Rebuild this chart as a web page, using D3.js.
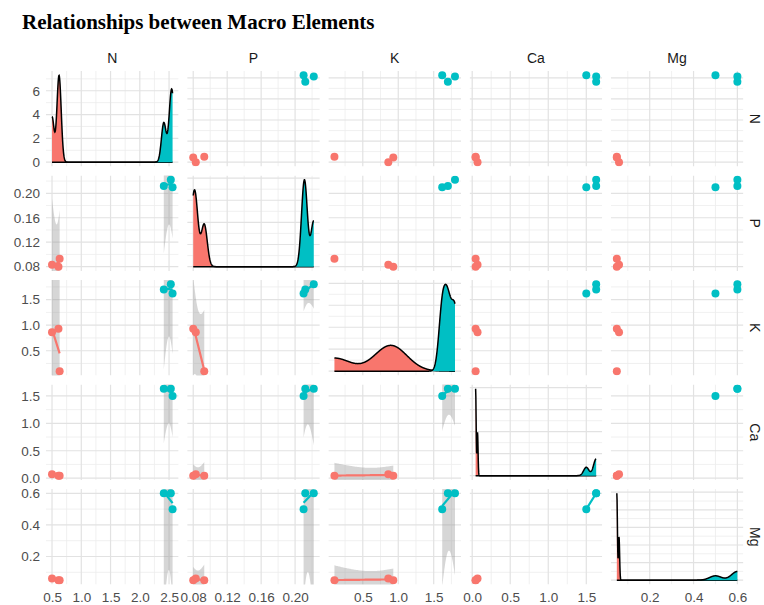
<!DOCTYPE html>
<html>
<head>
<meta charset="utf-8">
<script src="https://cdn.jsdelivr.net/npm/d3@7"></script>
<style>
  body { margin: 0; background: #fff; }
</style>
</head>
<body>
<div id="chart"></div>
<script>
// six samples, two groups of three
const elements = ["N", "P", "K", "Ca", "Mg"];
const groups = ["A", "A", "A", "B", "B", "B"];
const nVals  = [0.50, 0.61, 0.63, 2.56, 2.53, 2.41];
const pVals  = [0.083, 0.080, 0.093, 0.210, 0.222, 0.212];
const kVals  = [0.86, 0.93, 0.10, 1.62, 1.80, 1.70];
const caVals = [0.070, 0.045, 0.045, 1.50, 1.63, 1.63];
const mgVals = [0.060, 0.050, 0.050, 0.50, 0.60, 0.60];

const nTicks  = [0.5, 1.0, 1.5, 2.0, 2.5];
const pTicks  = [0.08, 0.12, 0.16, 0.20];
const kTicks  = [0.5, 1.0, 1.5];
const caTicks = [0.0, 0.5, 1.0, 1.5];
const mgTicks = [0.2, 0.4, 0.6];
const densityTicks = [0, 2, 4, 6];
const tickFormats = [".1f", ".2f", ".1f", ".1f", ".1f"];

const columns = [nVals, pVals, kVals, caVals, mgVals];
const tickSets = [nTicks, pTicks, kTicks, caTicks, mgTicks];

const colors = { A: "#F8766D", B: "#00BFC4" };
const tCrit = 12.706; // t(0.975, df = 1), n = 3 per group

const W = 764, H = 605;
const left0 = 46, colStep = 141.2, panelW = 132.6;
const top0 = 71, rowStep = 104.5, panelH = 95.5;
const sans = "'Liberation Sans', Arial, sans-serif";

const svg = d3.select("#chart").append("svg")
    .attr("width", W)
    .attr("height", H);

svg.append("text")
    .attr("x", 22)
    .attr("y", 29)
    .attr("font-family", "'Liberation Serif', 'Times New Roman', serif")
    .attr("font-weight", "bold")
    .attr("font-size", 21)
    .attr("fill", "#000")
    .text("Relationships between Macro Elements");

function expand(ext) {
    const d = (ext[1] - ext[0]) * 0.05;
    return [ext[0] - d, ext[1] + d];
}

function minorTicks(ticks, domain) {
    const step = ticks[1] - ticks[0];
    const out = [];
    for (let t = ticks[0] - step / 2; t <= ticks[ticks.length - 1] + step / 2 + 1e-9; t += step) {
        if (t >= domain[0] && t <= domain[1]) out.push(t);
    }
    return out;
}

function bwNrd0(x) {
    const s = d3.deviation(x);
    const iqr = (d3.quantile(x, 0.75) - d3.quantile(x, 0.25)) / 1.34;
    let lo = Math.min(s, iqr);
    if (!(lo > 0)) lo = s || 1;
    return 0.9 * lo * Math.pow(x.length, -0.2);
}

function kde(x, grid) {
    const bw = bwNrd0(x);
    return grid.map(g => ({
        x: g,
        y: d3.mean(x, xi => Math.exp(-0.5 * ((g - xi) / bw) ** 2)) / (bw * Math.sqrt(2 * Math.PI))
    }));
}

function lmBand(x, y, grid) {
    const n = x.length;
    const xbar = d3.mean(x), ybar = d3.mean(y);
    const sxx = d3.sum(x, v => (v - xbar) ** 2);
    const sxy = d3.sum(x, (v, k) => (v - xbar) * (y[k] - ybar));
    const b = sxy / sxx, a = ybar - b * xbar;
    const rss = d3.sum(x, (v, k) => (y[k] - a - b * v) ** 2);
    const s = Math.sqrt(rss / (n - 2));
    return grid.map(g => {
        const fit = a + b * g;
        const se = s * Math.sqrt(1 / n + (g - xbar) ** 2 / sxx);
        return { x: g, fit: fit, lo: fit - tCrit * se, hi: fit + tCrit * se };
    });
}

const xScales = columns.map((v, j) => d3.scaleLinear()
    .domain(expand(d3.extent(v)))
    .range([left0 + j * colStep, left0 + j * colStep + panelW]));
const yScales = columns.map((v, i) => d3.scaleLinear()
    .domain(expand(d3.extent(v)))
    .range([top0 + i * rowStep + panelH, top0 + i * rowStep]));

// densities for the diagonal
const densities = columns.map(v => {
    const ext = d3.extent(v);
    const grid = d3.range(512).map(k => ext[0] + (ext[1] - ext[0]) * k / 511);
    return ["A", "B"].map(gr => ({
        group: gr,
        pts: kde(v.filter((_, k) => groups[k] === gr), grid)
    }));
});
const densScales = densities.map((d, i) => {
    const maxY = d3.max(d, s => d3.max(s.pts, p => p.y));
    return d3.scaleLinear()
        .domain(expand([0, maxY]))
        .range([top0 + i * rowStep + panelH, top0 + i * rowStep]);
});

const defs = svg.append("defs");

for (let i = 0; i < 5; i++) {
    for (let j = 0; j < 5; j++) {
        const x0 = left0 + j * colStep, y0 = top0 + i * rowStep;
        const id = `clip-${i}-${j}`;
        defs.append("clipPath").attr("id", id)
            .append("rect").attr("x", x0).attr("y", y0).attr("width", panelW).attr("height", panelH);
        const g = svg.append("g").attr("clip-path", `url(#${id})`);
        const x = xScales[j];
        const y = i === j ? densScales[i] : yScales[i];

        // grid
        const vMinor = minorTicks(tickSets[j], x.domain());
        const hMajor = i === j ? y.ticks(5) : tickSets[i];
        const hMinor = minorTicks(hMajor, y.domain());
        g.selectAll(".vmin").data(vMinor).enter().append("line")
            .attr("x1", d => x(d)).attr("x2", d => x(d)).attr("y1", y0).attr("y2", y0 + panelH)
            .attr("stroke", "#ececec").attr("stroke-width", 0.8);
        g.selectAll(".hmin").data(hMinor).enter().append("line")
            .attr("y1", d => y(d)).attr("y2", d => y(d)).attr("x1", x0).attr("x2", x0 + panelW)
            .attr("stroke", "#ececec").attr("stroke-width", 0.8);
        g.selectAll(".vmaj").data(tickSets[j]).enter().append("line")
            .attr("x1", d => x(d)).attr("x2", d => x(d)).attr("y1", y0).attr("y2", y0 + panelH)
            .attr("stroke", "#e2e2e2").attr("stroke-width", 1.2);
        g.selectAll(".hmaj").data(hMajor).enter().append("line")
            .attr("y1", d => y(d)).attr("y2", d => y(d)).attr("x1", x0).attr("x2", x0 + panelW)
            .attr("stroke", "#e2e2e2").attr("stroke-width", 1.2);

        if (i === j) {
            const area = d3.area().x(d => x(d.x)).y0(y(0)).y1(d => y(d.y));
            const line = d3.line().x(d => x(d.x)).y(d => y(d.y));
            densities[i].forEach(s => {
                g.append("path").datum(s.pts).attr("d", area).attr("fill", colors[s.group]);
                g.append("path").datum(s.pts).attr("d", line)
                    .attr("fill", "none").attr("stroke", "#000").attr("stroke-width", 1.5);
            });
        } else {
            const xs = columns[j], ys = columns[i];
            if (i > j) {
                ["A", "B"].forEach(gr => {
                    const idx = d3.range(xs.length).filter(k => groups[k] === gr);
                    const gx = idx.map(k => xs[k]), gy = idx.map(k => ys[k]);
                    const ext = d3.extent(gx);
                    const grid = d3.range(80).map(k => ext[0] + (ext[1] - ext[0]) * k / 79);
                    const band = lmBand(gx, gy, grid);
                    g.append("path").datum(band)
                        .attr("d", d3.area().x(d => x(d.x)).y0(d => y(d.lo)).y1(d => y(d.hi)))
                        .attr("fill", "#999").attr("fill-opacity", 0.4);
                    g.selectAll(null).data(idx).enter().append("circle")
                        .attr("cx", k => x(xs[k])).attr("cy", k => y(ys[k])).attr("r", 4)
                        .attr("fill", colors[gr]);
                    g.append("path").datum(band)
                        .attr("d", d3.line().x(d => x(d.x)).y(d => y(d.fit)))
                        .attr("fill", "none").attr("stroke", colors[gr]).attr("stroke-width", 2.2);
                });
            } else {
                g.selectAll(null).data(d3.range(xs.length)).enter().append("circle")
                    .attr("cx", k => x(xs[k])).attr("cy", k => y(ys[k])).attr("r", 4)
                    .attr("fill", k => colors[groups[k]]);
            }
        }
    }
}

function styleAxis(sel) {
    sel.select(".domain").remove();
    sel.selectAll("text")
        .attr("font-family", sans)
        .attr("font-size", 13.5)
        .attr("fill", "#4d4d4d");
}

// left axes
for (let i = 0; i < 5; i++) {
    const scale = i === 0 ? densScales[0] : yScales[i];
    const ticks = i === 0 ? densityTicks : tickSets[i];
    const fmt = i === 0 ? d3.format("d") : d3.format(tickFormats[i]);
    svg.append("g")
        .attr("transform", `translate(${left0},0)`)
        .call(d3.axisLeft(scale).tickValues(ticks).tickFormat(fmt).tickSize(0).tickPadding(6))
        .call(styleAxis);
}

// bottom axes
const bottomY = top0 + 4 * rowStep + panelH;
for (let j = 0; j < 5; j++) {
    svg.append("g")
        .attr("transform", `translate(0,${bottomY})`)
        .call(d3.axisBottom(xScales[j]).tickValues(tickSets[j]).tickFormat(d3.format(tickFormats[j])).tickSize(0).tickPadding(8))
        .call(styleAxis);
}

// strips
elements.forEach((name, k) => {
    svg.append("text")
        .attr("x", left0 + k * colStep + panelW / 2)
        .attr("y", 63)
        .attr("text-anchor", "middle")
        .attr("font-family", sans)
        .attr("font-size", 14)
        .attr("fill", "#1a1a1a")
        .text(name);
    const cy = top0 + k * rowStep + panelH / 2;
    svg.append("text")
        .attr("transform", `translate(750,${cy}) rotate(90)`)
        .attr("text-anchor", "middle")
        .attr("font-family", sans)
        .attr("font-size", 14)
        .attr("fill", "#1a1a1a")
        .text(name);
});
</script>
</body>
</html>
